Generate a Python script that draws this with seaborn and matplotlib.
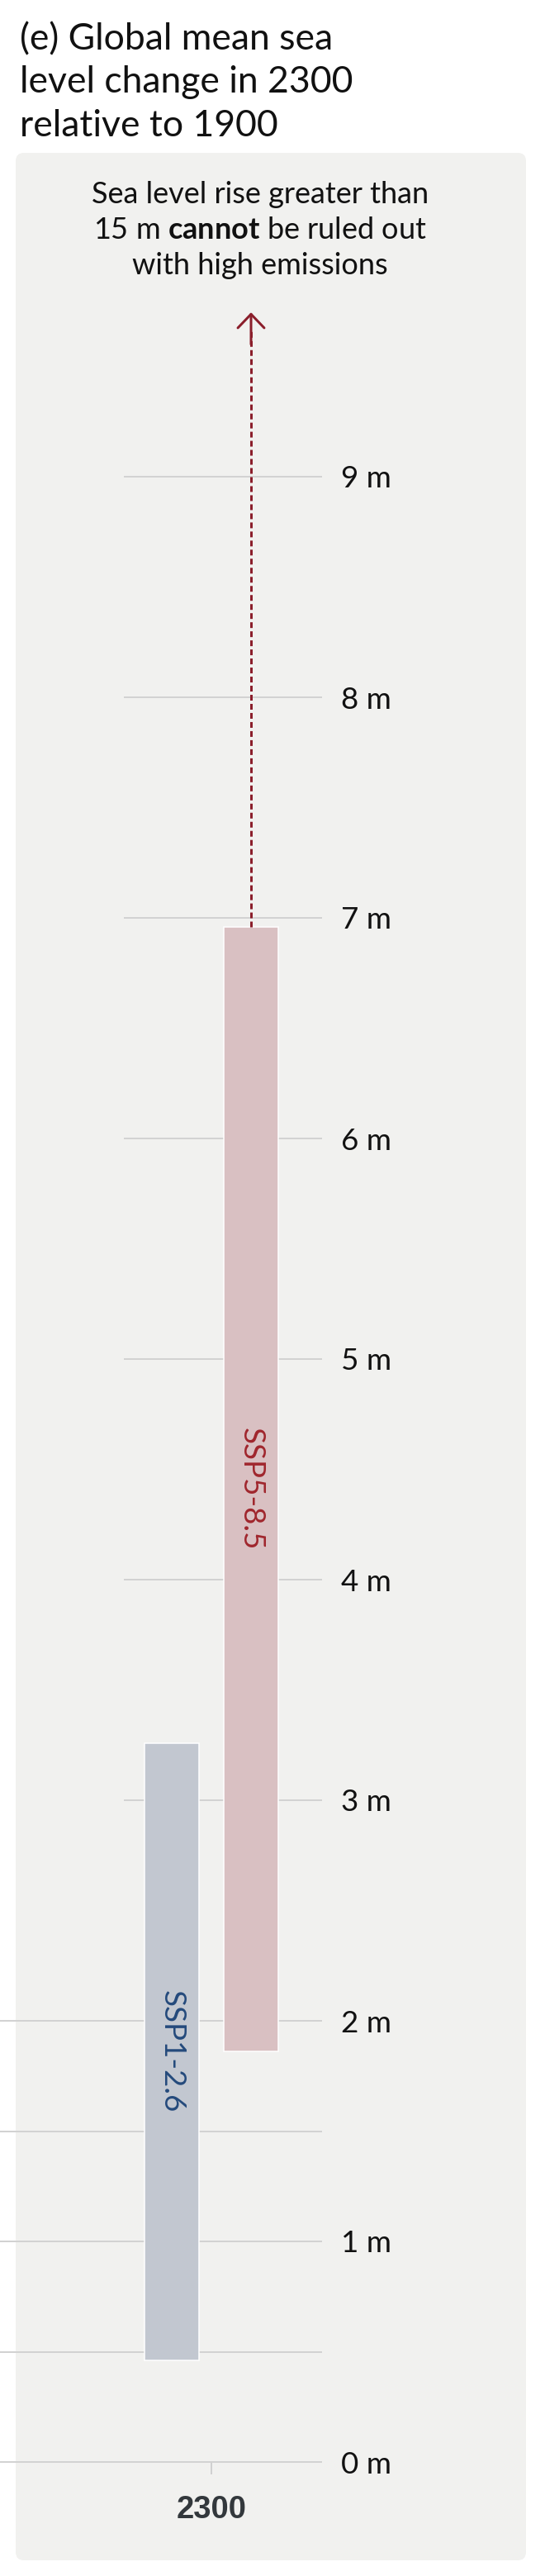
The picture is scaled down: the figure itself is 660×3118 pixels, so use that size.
import matplotlib.pyplot as plt
from matplotlib.patches import FancyBboxPatch
from matplotlib.transforms import IdentityTransform
import seaborn as sns
import pandas as pd

# --- data (metres, relative to 1900) ---
year = "2300"
scenarios = ["SSP1-2.6", "SSP5-8.5"]
low_m = [0.46, 1.86]
high_m = [3.26, 6.96]
bar_colors = ["#bfc6d3", "#ddbcbf"]
label_colors = ["#244a7c", "#a0262d"]
tick_values = list(range(10))
tick_labels = [f"{v} m" for v in tick_values]
grid_full = [0, 0.5, 1, 1.5, 2]
grid_short = [3, 4, 5, 6, 7, 8, 9]
title_lines = ["(e) Global mean sea", "level change in 2300", "relative to 1900"]
note_lines = ["Sea level rise greater than",
              "15 m $\\mathbf{cannot}$ be ruled out",
              "with high emissions"]

df = pd.DataFrame({"year": [year] * len(scenarios), "scenario": scenarios,
                   "low": low_m, "high": high_m})
df["span"] = df["high"] - df["low"]

sns.set_style("white")
plt.rcParams["font.family"] = ["Lato", "DejaVu Sans"]
plt.rcParams["mathtext.fontset"] = "custom"
plt.rcParams["mathtext.rm"] = "Lato"
plt.rcParams["mathtext.bf"] = "Lato:bold"

W, H = 660, 3118
fig = plt.figure(figsize=(W / 100, H / 100), dpi=100, facecolor="white")

# light grey card behind the chart (pixel coordinates)
card = FancyBboxPatch((19, H - 3099), 637 - 19, 3099 - 185,
                      boxstyle="round,pad=0,rounding_size=10",
                      transform=IdentityTransform(), facecolor="#f1f1ef",
                      edgecolor="none", zorder=-1)
fig.patches.append(card)

# axes: y=0 sits at pixel row 2980, 1 m = 267 px
ax = fig.add_axes([0, (H - 2980) / H, 390 / W, 2670 / H])
ax.set_facecolor("none")

sns.barplot(data=df, x="year", y="span", hue="scenario", hue_order=scenarios,
            palette=bar_colors, width=0.8, gap=0.32, errorbar=None,
            edgecolor="white", linewidth=1.1, legend=False, ax=ax, zorder=3)

# floating bars: move each bar up to its lower bound
bars = sorted(ax.patches, key=lambda p: p.get_x())
for bar, lo in zip(bars, df["low"]):
    bar.set_y(lo)

for bar, name, col in zip(bars, scenarios, label_colors):
    cx = bar.get_x() + bar.get_width() / 2
    cy = bar.get_y() + bar.get_height() / 2
    ax.text(cx, cy, name, rotation=-90, ha="center", va="center",
            rotation_mode="anchor", fontsize=26.5, color=col, zorder=5)

ax.set_xlim(-256 / 240, 134 / 240)
ax.set_ylim(0, 10)

# grid lines
grid_col = "#d2d2d2"
x0, x1 = ax.get_xlim()
ax.hlines(grid_full, x0, x1, color=grid_col, lw=1.44, zorder=1, clip_on=False)
ax.hlines(grid_short, -106 / 240, x1, color=grid_col, lw=1.44, zorder=1, clip_on=False)

# dotted arrow: high-emission rise could exceed 15 m
arrow_col = "#8b1e2b"
red = bars[1]
ax_x = red.get_x() + red.get_width() / 2
ax.plot([ax_x, ax_x], [high_m[1], 9.66], ls=(0, (2.33, 1.33)), lw=2.16,
        color=arrow_col, zorder=4, solid_capstyle="butt")
ax.annotate("", xy=(ax_x, 9.745), xytext=(ax_x, 9.6),
            arrowprops=dict(arrowstyle="->,head_length=1.2,head_width=1.15",
                            lw=2.16, color=arrow_col, mutation_scale=10,
                            shrinkA=0, shrinkB=0))

# axes styling
ax.yaxis.tick_right()
ax.set_yticks(tick_values, tick_labels)
ax.tick_params(axis="y", right=True, left=False, length=0, pad=16.6,
               labelsize=26.5, labelcolor="#111111")
ax.tick_params(axis="x", bottom=True, length=10.8, width=1.44, color="#d0d0d0",
               pad=18, labelsize=27.5, labelcolor="#33383c")
for lbl in ax.get_xticklabels():
    lbl.set_fontfamily(["Liberation Sans", "DejaVu Sans"])
    lbl.set_fontweight("bold")
ax.set_xlabel("")
ax.set_ylabel("")
for side in ["left", "right", "top", "bottom"]:
    ax.spines[side].set_visible(False)

# title and note
for line, base in zip(title_lines, [60, 112, 165]):
    fig.text(24 / W, 1 - base / H, line, fontsize=32, ha="left", va="baseline",
             color="#111111")
for line, base in zip(note_lines, [246, 289, 332]):
    fig.text(315 / W, 1 - base / H, line, fontsize=26, ha="center", va="baseline",
             color="#111111")

fig.savefig("out.png", dpi=100)
